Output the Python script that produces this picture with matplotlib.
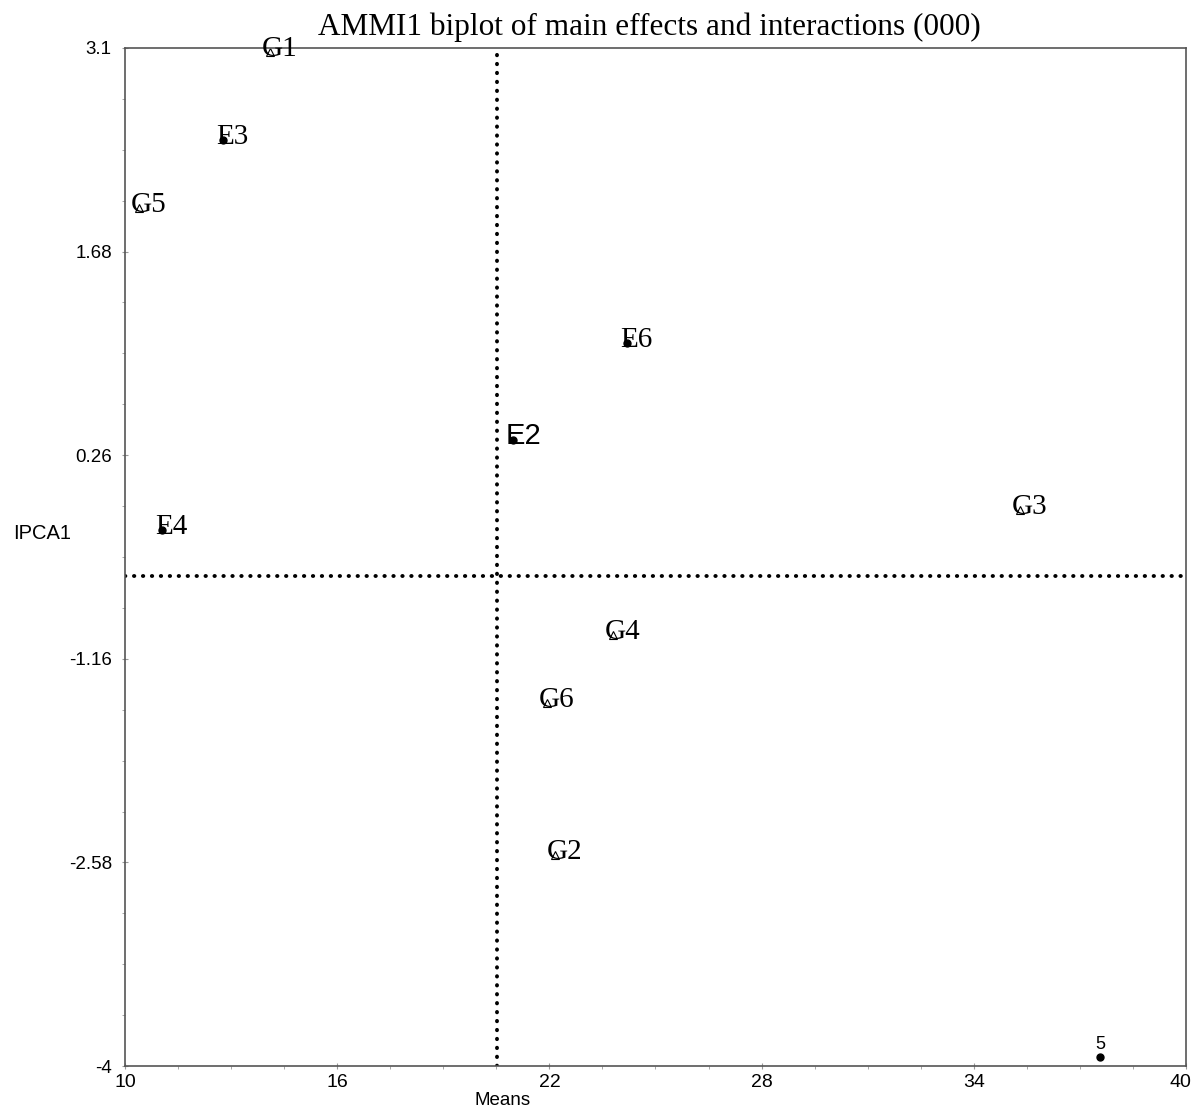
import matplotlib
matplotlib.use('Agg')

import matplotlib.pyplot as plt
import matplotlib.transforms as mtransforms

# genotypes (open triangles)
gen_names = ['G1', 'G2', 'G3', 'G4', 'G5', 'G6']
gen_means = [14.10, 22.16, 35.30, 23.80, 10.40, 21.93]
gen_ipca = [3.07, -2.53, -0.122, -0.993, 1.984, -1.468]

# environments (filled dots)
env_names = ['E2', 'E3', 'E4', 'E6']
env_means = [20.97, 12.77, 11.05, 24.19]
env_ipca = [0.366, 2.458, -0.261, 1.043]

# extra point
extra_name = '5'
extra_mean = 37.57
extra_ipca = -3.936

grand_mean = 20.52
ipca_zero = -0.582

xticks = [10, 16, 22, 28, 34, 40]
yticks = [-4, -2.58, -1.16, 0.26, 1.68, 3.1]
ytick_labels = ['-4', '-2.58', '-1.16', '0.26', '1.68', '3.1']

serif = ['Liberation Serif', 'DejaVu Serif']
sans = ['Liberation Sans', 'DejaVu Sans']


def run():
    fig = plt.figure(figsize=(11.93, 11.13), dpi=100)
    ax = fig.add_axes([0.1048, 0.0422, 0.8893, 0.9147])

    ax.plot(gen_means, gen_ipca, linestyle='none', marker='^', markersize=6,
            markerfacecolor='white', markeredgecolor='black', markeredgewidth=0.8)
    ax.plot(env_means, env_ipca, linestyle='none', marker='o', markersize=5,
            color='black')
    ax.plot([extra_mean], [extra_ipca], linestyle='none', marker='o',
            markersize=5, color='black')

    for n, x, y in zip(gen_names, gen_means, gen_ipca):
        ax.annotate(n, (x, y), xytext=(-6, -3), textcoords='offset points',
                    ha='left', va='baseline', fontsize=21, family=serif)
    for n, x, y in zip(env_names, env_means, env_ipca):
        fam = sans if n == 'E2' else serif
        ax.annotate(n, (x, y), xytext=(-5, -3), textcoords='offset points',
                    ha='left', va='baseline', fontsize=21, family=fam)
    ax.annotate(extra_name, (extra_mean, extra_ipca), xytext=(0, 3),
                textcoords='offset points', ha='center', va='bottom',
                fontsize=13, family=sans)

    dots = (0, (0.1, 2.2))
    ax.axvline(grand_mean, color='black', linewidth=2.8, linestyle=dots,
               dash_capstyle='round')
    ax.axhline(ipca_zero, color='black', linewidth=2.8, linestyle=dots,
               dash_capstyle='round')

    ax.set_xlim(10, 40)
    ax.set_ylim(-4, 3.1)
    ax.set_xticks(xticks)
    ax.set_xticklabels([str(t) for t in xticks], family=sans, fontsize=14)
    ax.set_yticks(yticks)
    ax.set_yticklabels(ytick_labels, family=sans, fontsize=13.5)
    ax.set_xticks([10 + 1.5 * i for i in range(21)], minor=True)
    ax.set_yticks([-4 + 0.355 * i for i in range(21)], minor=True)
    ax.tick_params(which='major', direction='inout', length=5, color='#999999')
    ax.tick_params(which='minor', direction='out', length=2, color='#999999')
    ax.tick_params(axis='x', pad=3)
    ax.tick_params(axis='y', pad=7)
    for s in ax.spines.values():
        s.set_color('#555555')
        s.set_linewidth(1.2)

    # last x label is pushed left so it stays inside the picture
    last = ax.get_xticklabels()[-1]
    last.set_transform(last.get_transform() +
                       mtransforms.ScaledTranslation(-0.06, 0, fig.dpi_scale_trans))

    fig.text(0.544, 0.9686, 'AMMI1 biplot of main effects and interactions (000)',
             ha='center', va='baseline', fontsize=22.5, family=serif)
    fig.text(0.035, 0.521, 'IPCA1', ha='center', va='center', fontsize=14.5,
             family=sans)
    fig.text(0.4216, 0.004, 'Means', ha='center', va='bottom', fontsize=13.5,
             family=sans)
    return fig


def main():
    fig = run()
    fig.savefig('out.png', dpi=100)


if __name__ == '__main__':
    main()
